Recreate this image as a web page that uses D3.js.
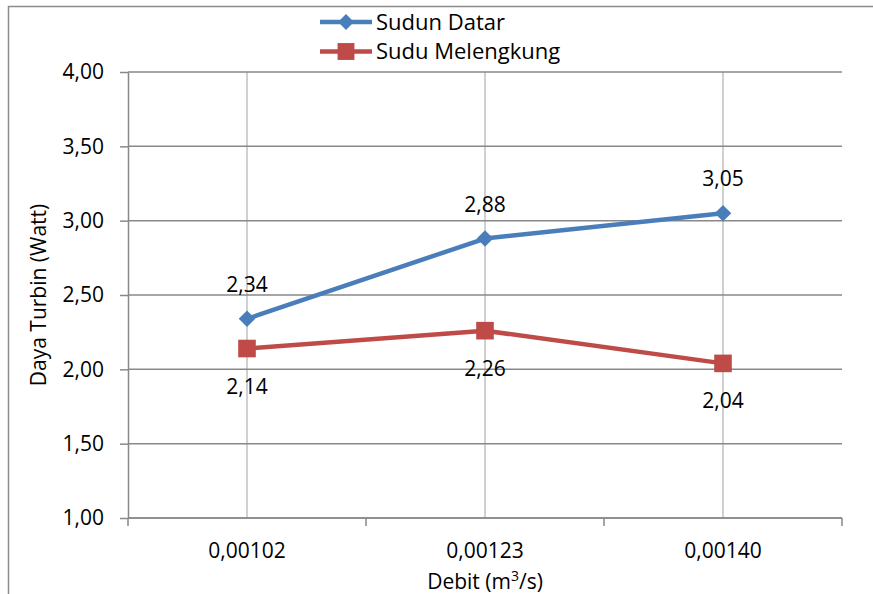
<!DOCTYPE html>
<html>
<head>
<meta charset="utf-8">
<script src="https://cdn.jsdelivr.net/npm/d3@7"></script>
<style>
  html, body { margin: 0; padding: 0; background: #fff; }
  svg { display: block; }
  text { font-family: "Open Sans", "Noto Sans", sans-serif; fill: #000; }
</style>
</head>
<body>
<svg id="chart" width="873" height="594"></svg>
<script>
// Flow rate categories (m³/s) and turbine power for both blade types
const categories = ["0,00102", "0,00123", "0,00140"];
const sudunDatar = [2.34, 2.88, 3.05];
const suduMelengkung = [2.14, 2.26, 2.04];
const yTicks = [1.0, 1.5, 2.0, 2.5, 3.0, 3.5, 4.0];
const seriesNames = ["Sudun Datar", "Sudu Melengkung"];

const fmt = v => d3.format(".2f")(v).replace(".", ",");
const FS = 21;

const svg = d3.select("#chart");
const margin = { left: 128, top: 72, right: 873 - 842, bottom: 594 - 518 };
const W = 873 - margin.left - margin.right;
const H = 594 - margin.top - margin.bottom;

// Outer frame (top and left edges)
svg.append("path")
  .attr("d", "M8.5,594 V6.5 H873")
  .attr("fill", "none").attr("stroke", "#8c8c8c").attr("stroke-width", 1.5);

const g = svg.append("g").attr("transform", `translate(${margin.left},${margin.top})`);

const x = d3.scaleBand().domain(categories).range([0, W]);
const y = d3.scaleLinear().domain([1, 4]).range([H, 0]);
const cx = c => x(c) + x.bandwidth() / 2;

// Vertical gridlines at category centers
g.append("g").selectAll("line").data(categories).join("line")
  .attr("x1", d => cx(d)).attr("x2", d => cx(d))
  .attr("y1", 0).attr("y2", H)
  .attr("stroke", "#c0c0c0").attr("stroke-width", 1.5);

// Horizontal gridlines
g.append("g").selectAll("line").data(yTicks).join("line")
  .attr("x1", 0).attr("x2", W)
  .attr("y1", d => y(d)).attr("y2", d => y(d))
  .attr("stroke", "#888").attr("stroke-width", 1.5);

// Y axis
const yAxis = g.append("g")
  .call(d3.axisLeft(y).tickValues(yTicks).tickFormat(fmt)
    .tickSizeInner(8).tickSizeOuter(0).tickPadding(16));
yAxis.select(".domain").attr("stroke", "#888").attr("stroke-width", 1.5);
yAxis.selectAll(".tick line").attr("stroke", "#888").attr("stroke-width", 1.5);
yAxis.selectAll(".tick text").attr("font-size", FS).attr("font-family", null);

// X axis: baseline, boundary ticks, category labels
g.append("line").attr("x1", 0).attr("x2", W).attr("y1", H).attr("y2", H)
  .attr("stroke", "#888").attr("stroke-width", 1.5);
const bounds = categories.map(c => x(c)).concat([x(categories[categories.length - 1]) + x.bandwidth()]);
g.append("g").selectAll("line").data(bounds).join("line")
  .attr("x1", d => d).attr("x2", d => d)
  .attr("y1", H).attr("y2", H + 8)
  .attr("stroke", "#888").attr("stroke-width", 1.5);
g.append("g").selectAll("text").data(categories).join("text")
  .attr("x", d => cx(d)).attr("y", H + 40)
  .attr("text-anchor", "middle").attr("font-size", FS)
  .text(d => d);

// Axis titles
const xt = svg.append("text")
  .attr("x", margin.left + W / 2).attr("y", 589)
  .attr("text-anchor", "middle").attr("font-size", FS);
xt.append("tspan").text("Debit (m");
xt.append("tspan").attr("font-size", 14).attr("dy", -8).text("3");
xt.append("tspan").attr("dy", 8).text("/s)");

svg.append("text")
  .attr("transform", `translate(46,${margin.top + H / 2}) rotate(-90)`)
  .attr("text-anchor", "middle").attr("font-size", FS)
  .text("Daya Turbin (Watt)");

// Series drawing
const colors = ["#4a7ebb", "#be4b48"];
const line = d3.line().x((d, i) => cx(categories[i])).y(d => y(d));
const diamond = d3.symbol().type(d3.symbolDiamond2).size(175);
const square = d3.symbol().type(d3.symbolSquare).size(310);

// Sudun Datar
g.append("path").datum(sudunDatar).attr("d", line)
  .attr("fill", "none").attr("stroke", colors[0]).attr("stroke-width", 4.5)
  .attr("stroke-linejoin", "round");
g.append("g").selectAll("path").data(sudunDatar).join("path")
  .attr("transform", (d, i) => `translate(${cx(categories[i])},${y(d)})`)
  .attr("d", diamond).attr("fill", colors[0]);
g.append("g").selectAll("text").data(sudunDatar).join("text")
  .attr("x", (d, i) => cx(categories[i])).attr("y", d => y(d) - 27)
  .attr("text-anchor", "middle").attr("font-size", FS)
  .text(fmt);

// Sudu Melengkung
g.append("path").datum(suduMelengkung).attr("d", line)
  .attr("fill", "none").attr("stroke", colors[1]).attr("stroke-width", 4.5)
  .attr("stroke-linejoin", "round");
g.append("g").selectAll("path").data(suduMelengkung).join("path")
  .attr("transform", (d, i) => `translate(${cx(categories[i])},${y(d)})`)
  .attr("d", square).attr("fill", colors[1]);
g.append("g").selectAll("text").data(suduMelengkung).join("text")
  .attr("x", (d, i) => cx(categories[i])).attr("y", d => y(d) + 45)
  .attr("text-anchor", "middle").attr("font-size", FS)
  .text(fmt);

// Legend
const legend = svg.append("g").attr("transform", "translate(320,22)");
const syms = [d3.symbol().type(d3.symbolDiamond2).size(160), d3.symbol().type(d3.symbolSquare).size(285)];
seriesNames.forEach((name, i) => {
  const row = legend.append("g").attr("transform", `translate(0,${i * 29.5})`);
  row.append("line").attr("x1", 0).attr("x2", 52).attr("y1", 0).attr("y2", 0)
    .attr("stroke", colors[i]).attr("stroke-width", 4.5);
  row.append("path").attr("transform", "translate(26,0)").attr("d", syms[i]).attr("fill", colors[i]);
  row.append("text").attr("x", 56).attr("y", 7.5).attr("font-size", 22).text(name);
});
</script>
</body>
</html>
